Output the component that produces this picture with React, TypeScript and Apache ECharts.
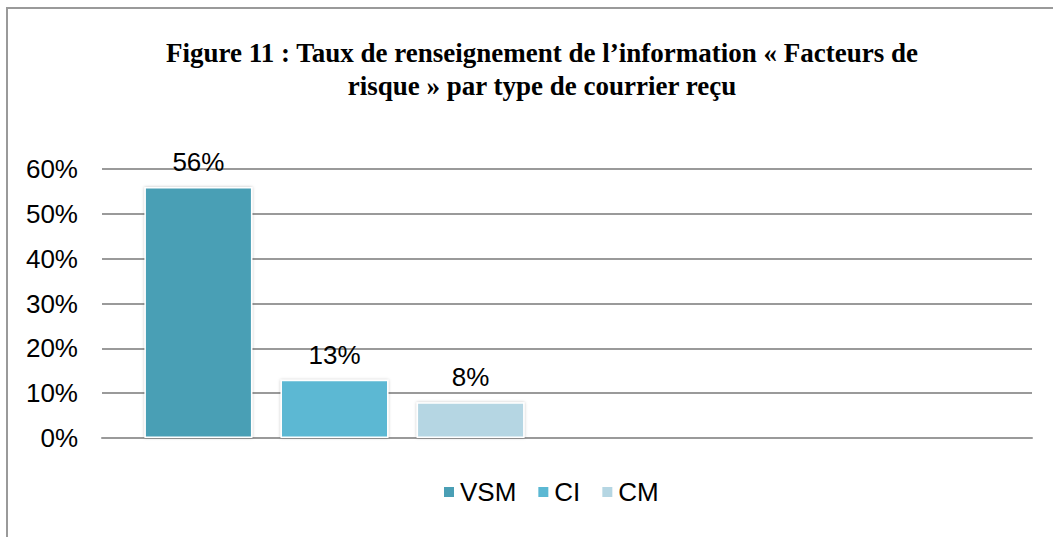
import React, { useEffect, useRef } from "react";
import * as echarts from "echarts";

const categories = ["", ""];
const seriesNames = ["VSM", "CI", "CM"];
const vsm = [56, null];
const ci = [13, null];
const cm = [8, null];
const colors = ["#4A9FB5", "#5BB8D3", "#B5D6E3"];
const yTicks = { min: 0, max: 60, interval: 10 };
const titleText =
  "Figure 11 : Taux de renseignement de l\u2019information \u00ab Facteurs de\nrisque \u00bb par type de courrier re\u00e7u";

export default function App() {
  const ref = useRef<HTMLDivElement>(null);
  useEffect(() => {
    if (!ref.current) return;
    const chart = echarts.init(ref.current, null, { renderer: "svg" });
    const values = [vsm, ci, cm];
    chart.setOption({
      animation: false,
      backgroundColor: "#fff",
      graphic: [
        {
          type: "rect",
          shape: { x: 7, y: 8, width: 1200, height: 700 },
          style: { fill: "none", stroke: "#9a9a9a", lineWidth: 2 },
          silent: true,
          z: -1,
        },
      ],
      title: {
        text: titleText,
        left: 537,
        textAlign: "center",
        top: 31,
        textStyle: {
          fontFamily: "Liberation Serif",
          fontWeight: "bold",
          fontSize: 27,
          lineHeight: 33,
          color: "#000",
        },
      },
      legend: {
        data: seriesNames,
        left: 437,
        top: 474,
        itemWidth: 12,
        itemHeight: 12,
        itemGap: 20,
        icon: "rect",
        textStyle: { fontFamily: "Liberation Sans", fontSize: 26, color: "#000" },
      },
      grid: { left: 102, right: 21, top: 169, bottom: 99, containLabel: false },
      xAxis: {
        type: "category",
        data: categories,
        axisLine: { show: true, lineStyle: { color: "#9a9a9a", width: 2 } },
        axisTick: { show: false },
        axisLabel: { show: false },
      },
      yAxis: {
        type: "value",
        min: yTicks.min,
        max: yTicks.max,
        interval: yTicks.interval,
        axisLine: { show: false },
        axisTick: { show: false },
        axisLabel: {
          formatter: "{value}%",
          fontFamily: "Liberation Sans",
          fontSize: 26,
          color: "#000",
          margin: 24,
        },
        splitLine: { lineStyle: { color: "#9a9a9a", width: 2 } },
      },
      series: seriesNames.map((name, i) => ({
        name,
        type: "bar",
        data: values[i],
        barWidth: 108,
        barGap: "26%",
        itemStyle: {
          color: colors[i],
          borderColor: "#fff",
          borderWidth: 1.5,
          shadowColor: "rgba(0,0,0,0.25)",
          shadowBlur: 3,
        },
        label: {
          show: true,
          position: "top",
          distance: 12,
          formatter: "{c}%",
          fontFamily: "Liberation Sans",
          fontSize: 26,
          color: "#000",
        },
      })),
    });
    return () => chart.dispose();
  }, []);
  return (
    <div
      ref={ref}
      style={{ position: "absolute", left: 0, top: 0, width: 1053, height: 537 }}
    />
  );
}
